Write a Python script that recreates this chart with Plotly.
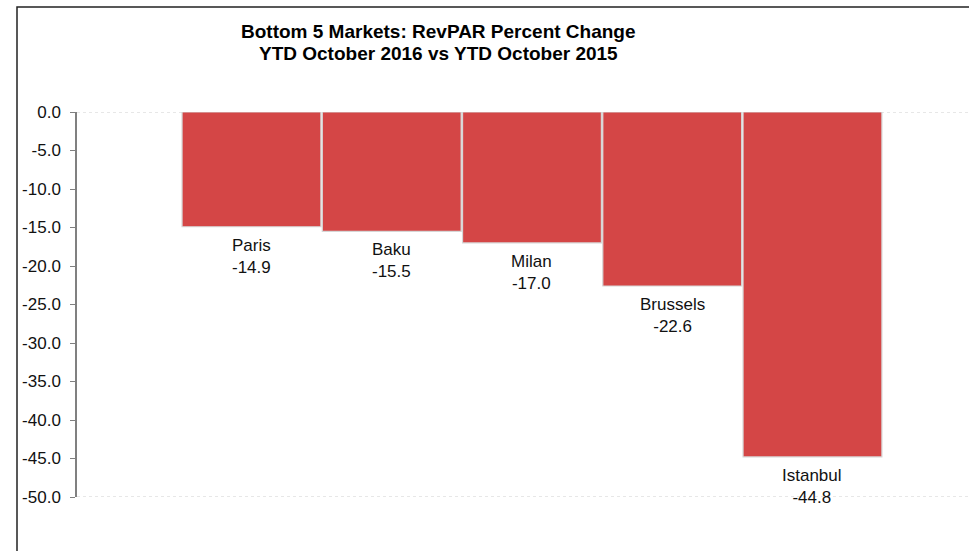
import plotly.graph_objects as go

markets = ["Paris", "Baku", "Milan", "Brussels", "Istanbul"]
revpar_change = [-14.9, -15.5, -17.0, -22.6, -44.8]
tick_values = [0, -5, -10, -15, -20, -25, -30, -35, -40, -45, -50]
tick_labels = ["0.0", "-5.0", "-10.0", "-15.0", "-20.0", "-25.0", "-30.0", "-35.0", "-40.0", "-45.0", "-50.0"]
title_lines = ["Bottom 5 Markets: RevPAR Percent Change", "YTD October 2016 vs YTD October 2015"]

W, H = 969, 551
ML, MR, MT, MB = 77, 0, 112, 54
pw = W - ML - MR
ph = H - MT - MB
FONT = "Liberation Sans, Arial, sans-serif"

def px_y(py):
    return 1 + (MT - py) / ph

xpos = list(range(len(markets)))

fig = go.Figure()
fig.add_trace(go.Bar(
    x=xpos,
    y=revpar_change,
    width=0.99,
    marker=dict(color="rgb(212,70,70)", line=dict(color="#d6d6d6", width=1.2)),
    hoverinfo="skip",
))

annotations = []
for line, py in zip(title_lines, [32, 53]):
    annotations.append(dict(
        text=f"<b>{line}</b>", xref="paper", yref="paper",
        x=(438 - ML) / pw, y=px_y(py), xanchor="center", yanchor="middle",
        showarrow=False, font=dict(family=FONT, size=19, color="#000"),
    ))
for xi, m, v in zip(xpos, markets, revpar_change):
    annotations.append(dict(
        text=f"{m}<br>{v:.1f}", xref="x", yref="y", x=xi, y=v,
        xanchor="center", yanchor="top", yshift=-7, showarrow=False,
        font=dict(family=FONT, size=17, color="#111"),
    ))

fig.update_layout(
    width=W, height=H,
    margin=dict(l=ML, r=MR, t=MT, b=MB),
    paper_bgcolor="white", plot_bgcolor="white",
    showlegend=False,
    font=dict(family=FONT, color="#111"),
    xaxis=dict(range=[-1.244, 5.116], showgrid=False, zeroline=False,
               showticklabels=False, ticks="", showline=False),
    yaxis=dict(range=[-50, 0], tickvals=tick_values, ticktext=tick_labels,
               showgrid=False, zeroline=False, showline=True, linecolor="#808080",
               linewidth=1.5, ticks="outside", ticklen=5, tickcolor="#808080",
               ticklabelstandoff=6,
               tickfont=dict(family=FONT, size=17, color="#111")),
    annotations=annotations,
    shapes=[
        dict(type="line", xref="paper", yref="y", x0=0, x1=1, y0=0, y1=0,
             line=dict(color="#cfcfcf", width=1, dash="dot"), layer="below"),
        dict(type="line", xref="paper", yref="y", x0=0, x1=1, y0=-50, y1=-50,
             line=dict(color="#cfcfcf", width=1, dash="dot"), layer="below"),
        dict(type="rect", xref="paper", yref="paper",
             x0=(17 - ML) / pw, x1=1.1, y0=-0.3, y1=px_y(7),
             line=dict(color="#222", width=1.5), fillcolor="rgba(0,0,0,0)", layer="below"),
    ],
)

fig.write_html("out.html", config={"displayModeBar": False},
               post_script="document.body.style.margin='0px';")
